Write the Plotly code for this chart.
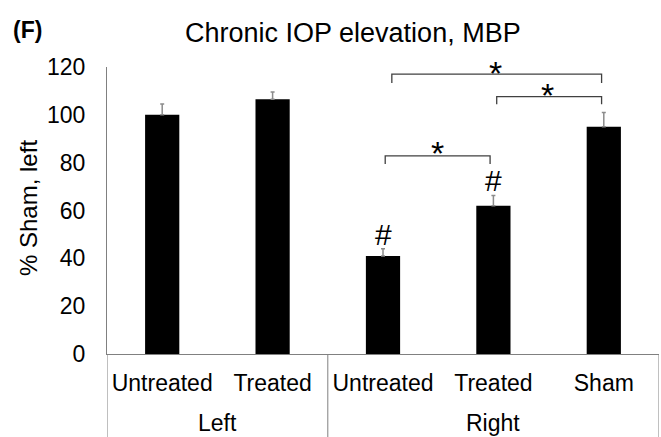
import plotly.graph_objects as go

# ---- data ----
categories = ["Untreated", "Treated", "Untreated", "Treated", "Sham"]
groups = ["Left", "Right"]
group_sizes = [2, 3]
values = [100, 106.5, 41, 62, 95]
errors = [4.5, 3, 3, 4.3, 6]
sig_marks = ["", "", "#", "#", ""]
yticks = [0, 20, 40, 60, 80, 100, 120]

# ---- layout constants ----
FONT = "Liberation Sans, Arial, sans-serif"
W, H = 661, 437
L, R, T, B = 107, 2, 67, 83
plot_h = H - T - B
plot_w = W - L - R
AXIS_PX = H - B  # pixel row of y=0


def py(p):
    """pixel row -> paper y"""
    return (AXIS_PX - p) / plot_h


def px(p):
    """pixel column -> paper x"""
    return (p - L) / plot_w


x = list(range(len(categories)))

fig = go.Figure()
fig.add_trace(go.Bar(
    x=x, y=values, width=0.31,
    marker=dict(color="black", line=dict(width=0)),
    error_y=dict(type="data", array=errors, symmetric=False, arrayminus=[0]*5,
                 color="#8c8c8c", thickness=1.5, width=2),
    showlegend=False,
))

# significance brackets: (x_start, x_end, y_top, tick_drop, star_x, star_y)
brackets = [
    (2.08, 3.98, 117, 3.7, 3.02, 119.5),
    (3.03, 3.98, 107.6, 3.2, 3.49, 110.3),
    (2.02, 2.97, 82.8, 3.4, 2.49, 86.3),
]
for x0, x1, yt, dy, sx, sy in brackets:
    fig.add_trace(go.Scatter(
        x=[x0, x0, x1, x1], y=[yt - dy, yt, yt, yt - dy], mode="lines",
        line=dict(color="#404040", width=1.3), showlegend=False, hoverinfo="skip",
    ))
    fig.add_annotation(x=sx, y=sy, xref="x", yref="y", text="*", showarrow=False,
                       yshift=-5,
                       font=dict(family=FONT, size=34, color="black"),
                       xanchor="center", yanchor="middle")

for i, m in enumerate(sig_marks):
    if m:
        fig.add_annotation(x=i, y=values[i] + errors[i], xref="x", yref="y", text=m,
                           showarrow=False, yshift=-4,
                           font=dict(family=FONT, size=30, color="black"),
                           xanchor="center", yanchor="bottom")

# group dividers and labels
bottom = py(H)
edges = [-0.5]
for s in group_sizes:
    edges.append(edges[-1] + s)
for e in edges:
    fig.add_shape(type="line", xref="x", yref="paper", x0=e, x1=e, y0=0, y1=bottom,
                  line=dict(color="#808080", width=1))
for g, a, b in zip(groups, edges[:-1], edges[1:]):
    fig.add_annotation(x=(a + b) / 2, y=py(423), xref="x", yref="paper",
                       text=g, showarrow=False, xanchor="center", yanchor="middle",
                       font=dict(family=FONT, size=23, color="black"))

# titles
fig.add_annotation(x=px(353), y=py(33), xref="paper", yref="paper",
                   text="Chronic IOP elevation, MBP", showarrow=False,
                   xanchor="center", yanchor="middle",
                   font=dict(family=FONT, size=27, color="black"))
fig.add_annotation(x=px(11), y=py(30), xref="paper", yref="paper",
                   text="<b>(F)</b>", showarrow=False, xanchor="left", yanchor="middle",
                   font=dict(family=FONT, size=23, color="black"))
fig.add_annotation(x=px(28), y=py(208), xref="paper", yref="paper",
                   text="% Sham, left", textangle=-90, showarrow=False,
                   xanchor="center", yanchor="middle",
                   font=dict(family=FONT, size=24, color="black"))

fig.update_layout(
    width=W, height=H,
    margin=dict(l=L, r=R, t=T, b=B),
    paper_bgcolor="white", plot_bgcolor="white",
    font=dict(family=FONT, color="black"),
    xaxis=dict(range=[-0.5, 4.5], tickvals=x, ticktext=categories, showgrid=False,
               zeroline=False, showline=True, linecolor="#808080", linewidth=1,
               ticks="", tickfont=dict(size=23, color="black"), ticklabelstandoff=8),
    yaxis=dict(range=[0, 120], tickvals=yticks, showgrid=False, zeroline=False,
               showline=True, linecolor="#808080", linewidth=1, ticks="",
               tickfont=dict(size=23, color="black"), ticklabelstandoff=16),
)

fig.write_html("out.html")
